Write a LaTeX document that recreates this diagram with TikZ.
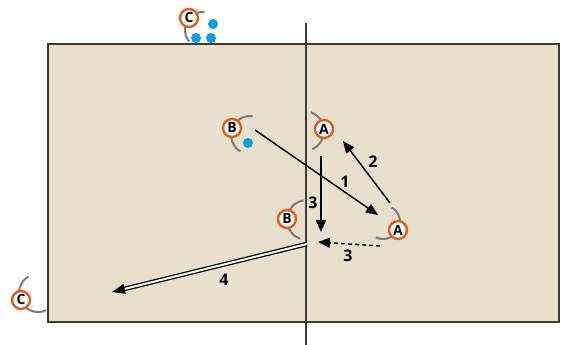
\documentclass[tikz,border=0pt]{standalone}
\usepackage{fontspec}
\setmainfont{Open Sans}
\usepackage{xcolor}
\definecolor{SandBeige}{HTML}{E9DFCD}
\definecolor{CourtLine}{HTML}{3C3A36}
\definecolor{PlayerOrange}{HTML}{E8591A}
\definecolor{BallBlue}{HTML}{0B9DE2}
\definecolor{BodyGray}{HTML}{7A7A7A}
\usepackage{tikz}
\usetikzlibrary{arrows.meta}

\tikzset{
  player/.style={circle, draw=PlayerOrange, line width=2.4pt, fill=white,
    inner sep=0pt, minimum size=18pt, font=\fontsize{14}{14}\selectfont\bfseries},
  body/.style={BodyGray, line width=2pt},
  ball/.style={fill=BallBlue},
  move/.style={-{Triangle[length=12pt,width=10pt]}, line width=1.5pt},
  steplabel/.style={font=\fontsize{16}{16}\selectfont\bfseries}
}

\begin{document}
\begin{tikzpicture}[x=1pt, y=1pt, >=Stealth]
  \useasboundingbox (0,0) rectangle (570,345);

  % Court
  \fill[SandBeige] (48,23) rectangle (559,301);
  \draw[CourtLine, line width=1.6pt] (48,23) rectangle (559,301);
  \draw[CourtLine, line width=1.2pt] (306,0) -- (306,322);

  % Bodies
  \draw[body] ([shift=(85:18)]203,315) arc (85:220:18);
  \draw[body] ([shift=(82:19)]250,210) arc (82:240:19);
  \draw[body] ([shift=(70:20)]304,214) arc (70:-65:20);
  \draw[body] ([shift=(100:20)]307,125) arc (100:250:20);
  \draw[body] ([shift=(60:17)]383,123) arc (60:-115:17);
  \draw[body] ([shift=(120:19)]38,52) arc (120:295:19);

  % Balls
  \fill[ball] (213,321) circle (5);
  \fill[ball] (196,307) circle (5);
  \fill[ball] (211,307) circle (5);
  \fill[ball] (248,202) circle (5);

  % Players
  \node[player] (ctop) at (189,327) {C};
  \node[player] (bone) at (232,217) {B};
  \node[player] (aone) at (324,216) {A};
  \node[player] (btwo) at (287,126) {B};
  \node[player] (atwo) at (398,115) {A};
  \node[player] (cbot) at (21,45) {C};

  % Moves
  \coordinate (m1s) at (255,215);
  \coordinate (m1e) at (378,130);
  \coordinate (m2s) at (390,142);
  \coordinate (m2e) at (343,204);
  \coordinate (m3s) at (321,189);
  \coordinate (m3e) at (321,113);
  \coordinate (m4s) at (380,99);
  \coordinate (m4e) at (318,103);
  \coordinate (m5s) at (307,101);
  \coordinate (m5e) at (112,53);

  \draw[move] (m1s) -- (m1e);
  \draw[move] (m2s) -- (m2e);
  \draw[move] (m3s) -- (m3e);
  \draw[move, dashed, dash pattern=on 4pt off 3pt] (m4s) -- (m4e);
  \draw[-{Triangle[length=13pt,width=10pt]}, line width=1.3pt, double, double distance=2pt] (m5s) -- (m5e);

  % Labels
  \node[steplabel] (lone) at (345,163) {1};
  \node[steplabel] (ltwo) at (373,183) {2};
  \node[steplabel] (lthree) at (313,142) {3};
  \node[steplabel] (lfour) at (348,89) {3};
  \node[steplabel] (lfive) at (224,65) {4};
\end{tikzpicture}
\end{document}
